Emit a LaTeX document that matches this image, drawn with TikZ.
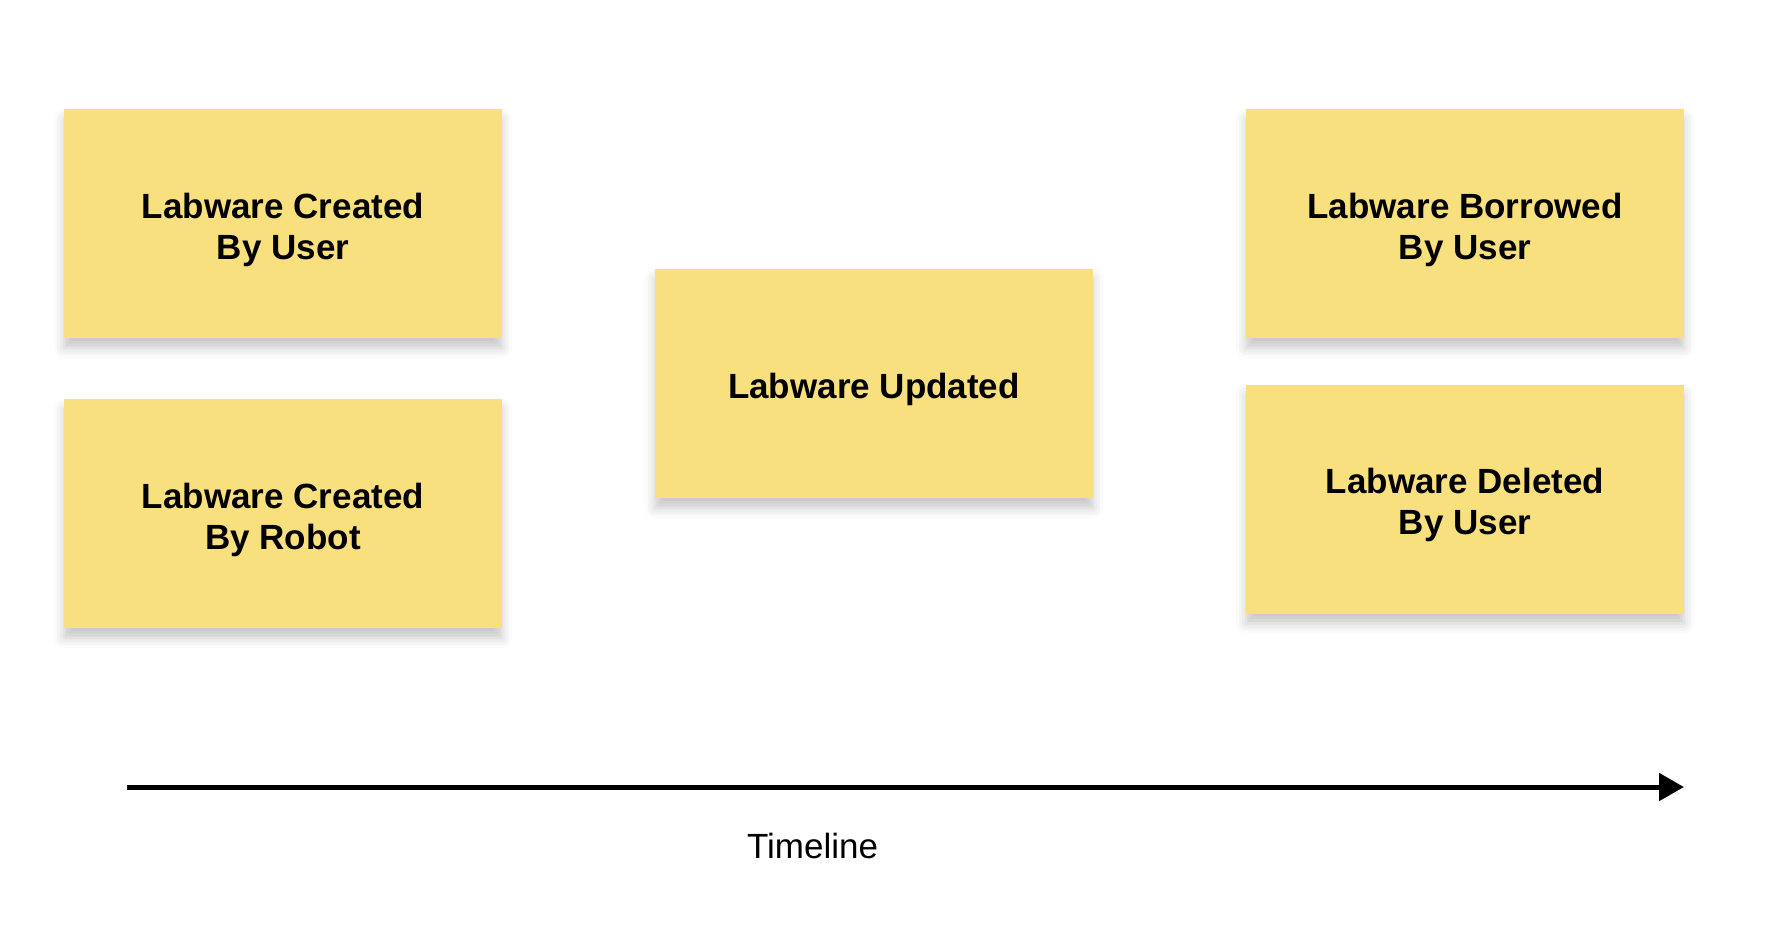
\documentclass[tikz,border=0pt]{standalone}
\usepackage{fontspec}
\setmainfont{Liberation Sans}
\usetikzlibrary{arrows.meta,shadows.blur}
\definecolor{sticky}{RGB}{249,224,126}
\tikzset{
  note/.style={fill=sticky, draw=none, minimum width=438pt, minimum height=229pt,
    inner sep=0pt,
    blur shadow={shadow xshift=0pt, shadow yshift=-10pt, shadow blur radius=10pt, shadow opacity=22}},
  notetext/.style={inner sep=0pt, align=center, text=black,
    font=\fontsize{35}{41}\selectfont\bfseries},
  timeline/.style={line width=5pt, -{Triangle[length=25pt,width=27pt]}},
  tlabel/.style={font=\fontsize{35}{41}\selectfont, text=black, inner sep=0pt}
}
\begin{document}
\begin{tikzpicture}[x=1pt,y=-1pt]
\useasboundingbox (0,0) rectangle (1772,932);
\node[note] (cu) at (283,223.5) {};
\node[note] (cr) at (283,513.5) {};
\node[note] (up) at (874,383.5) {};
\node[note] (bu) at (1465,223.5) {};
\node[note] (du) at (1465,499) {};
\node[notetext] (cut) at ([yshift=-6pt]cu.center) {Labware Created\\By User};
\node[notetext] (crt) at ([yshift=-6pt]cr.center) {Labware Created\\By Robot};
\node[notetext] (upt) at ([yshift=-6pt]up.center) {Labware Updated};
\node[notetext] (but) at ([yshift=-6pt]bu.center) {Labware Borrowed\\By User};
\node[notetext] (dut) at ([yshift=-6pt]du.center) {Labware Deleted\\By User};
\coordinate (ts) at (127,787);
\coordinate (te) at (1684,787);
\draw[timeline] (ts) -- (te);
\node[tlabel] (tl) at (812.5,846) {Timeline};
\end{tikzpicture}
\end{document}
